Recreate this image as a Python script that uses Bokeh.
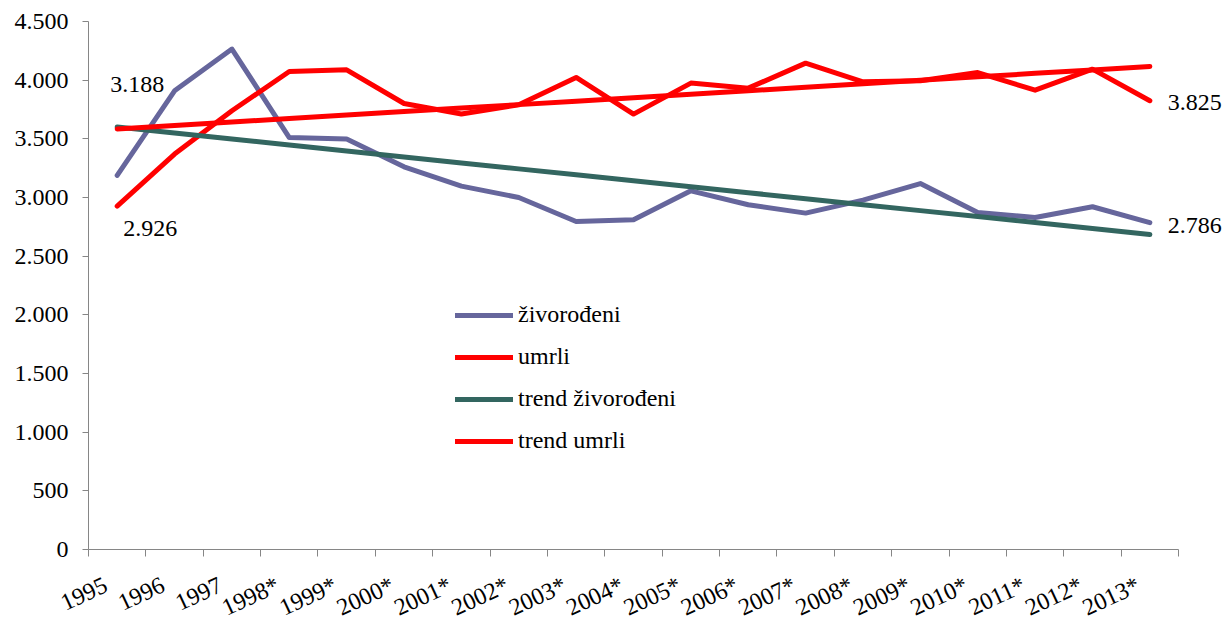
import math
import numpy as np
from bokeh.plotting import figure
from bokeh.models import (Range1d, FixedTicker, Legend, LegendItem, Label)
from bokeh.embed import file_html
from bokeh.resources import INLINE

years = ["1995", "1996", "1997", "1998*", "1999*", "2000*", "2001*", "2002*",
         "2003*", "2004*", "2005*", "2006*", "2007*", "2008*", "2009*",
         "2010*", "2011*", "2012*", "2013*"]
zivorodeni = [3188, 3909, 4265, 3511, 3498, 3262, 3097, 3000, 2796, 2810,
              3057, 2938, 2867, 2978, 3119, 2872, 2830, 2921, 2786]
umrli = [2926, 3370, 3739, 4074, 4088, 3801, 3711, 3790, 4023, 3711,
         3975, 3932, 4145, 3986, 3995, 4065, 3915, 4094, 3825]
y_ticks = [0, 500, 1000, 1500, 2000, 2500, 3000, 3500, 4000, 4500]

FONT = "'Liberation Serif', 'Times New Roman', serif"
FS = "24px"
C_ZIV = "#66669C"
C_UMR = "#FF0000"
C_TZ = "#336660"
AX = "#868686"

n = len(years)
xs = list(range(n))
tz = np.polyval(np.polyfit(xs, zivorodeni, 1), xs)
tu = np.polyval(np.polyfit(xs, umrli, 1), xs)

# page geometry (pixels): axes corner at (88, 549), top tick at 21
W, H = 1224, 622
AX_LEFT, AX_TOP, AX_BOTTOM = 88, 21, 549
cat_px = 57.37
y_top = y_ticks[-1]
ppu = (AX_BOTTOM - AX_TOP) / y_top
x0, x1 = -0.5 - AX_LEFT / cat_px, -0.5 + (W - AX_LEFT) / cat_px
y0, y1 = -(H - AX_BOTTOM) / ppu, y_top + AX_TOP / ppu

p = figure(width=W, height=H, output_backend="svg", toolbar_location=None,
           x_range=Range1d(x0, x1), y_range=Range1d(y0, y1),
           min_border_left=0, min_border_right=0, min_border_top=0,
           min_border_bottom=0)
p.outline_line_color = None
p.xgrid.visible = False
p.ygrid.visible = False

def fmt(v):
    return f"{v:,}".replace(",", ".")

# y axis, placed at the left edge of the categories
p.yaxis.fixed_location = -0.5
p.yaxis.bounds = (0, y_top)
p.yaxis.ticker = FixedTicker(ticks=y_ticks)
p.yaxis.major_label_overrides = {v: fmt(v) for v in y_ticks}
p.yaxis.axis_line_color = AX
p.yaxis.major_tick_line_color = AX
p.yaxis.major_tick_out = 6
p.yaxis.major_tick_in = 0
p.yaxis.minor_tick_line_color = None
p.yaxis.major_label_text_font = FONT
p.yaxis.major_label_text_font_size = FS
p.yaxis.major_label_text_color = "#000000"
p.yaxis.major_label_standoff = 14

# x axis at value 0, category labels anchored slightly left of centre
label_pos = [round(i - 0.2, 2) for i in xs]
p.xaxis.fixed_location = 0
p.xaxis.bounds = (-0.5, n - 0.5)
p.xaxis.ticker = FixedTicker(ticks=label_pos,
                             minor_ticks=[i - 0.5 for i in range(n + 1)])
p.xaxis.major_label_overrides = {t: y for t, y in zip(label_pos, years)}
p.xaxis.axis_line_color = AX
p.xaxis.major_tick_line_color = None
p.xaxis.major_tick_out = 0
p.xaxis.minor_tick_line_color = AX
p.xaxis.minor_tick_out = 7
p.xaxis.minor_tick_in = 0
p.xaxis.major_label_orientation = math.radians(25)
p.xaxis.major_label_text_font = FONT
p.xaxis.major_label_text_font_size = FS
p.xaxis.major_label_text_color = "#000000"
p.xaxis.major_label_standoff = 27

kw = dict(line_width=5, line_cap="round", line_join="round")
r1 = p.line(xs, zivorodeni, line_color=C_ZIV, **kw)
r2 = p.line(xs, umrli, line_color=C_UMR, **kw)
r3 = p.line(xs, tz, line_color=C_TZ, **kw)
r4 = p.line(xs, tu, line_color=C_UMR, **kw)

legend = Legend(items=[LegendItem(label="živorođeni", renderers=[r1]),
                       LegendItem(label="umrli", renderers=[r2]),
                       LegendItem(label="trend živorođeni", renderers=[r3]),
                       LegendItem(label="trend umrli", renderers=[r4])],
                location=(455, 168), orientation="vertical",
                glyph_width=58, glyph_height=24, spacing=15, padding=0,
                margin=0, label_standoff=5,
                label_text_font=FONT, label_text_font_size=FS,
                label_text_color="#000000",
                border_line_color=None, background_fill_alpha=0)
p.add_layout(legend, "center")

def lab(x, y, xo, yo):
    p.add_layout(Label(x=x, y=y, text=fmt(y), x_offset=xo, y_offset=yo,
                       text_align="center", text_baseline="middle",
                       text_font=FONT, text_font_size=FS, text_color="#000000"))

lab(0, zivorodeni[0], 20, 91)
lab(0, umrli[0], 33, -22)
lab(n - 1, umrli[-1], 45, -2)
lab(n - 1, zivorodeni[-1], 45, -3)

open("out.html", "w").write(file_html(p, INLINE))
